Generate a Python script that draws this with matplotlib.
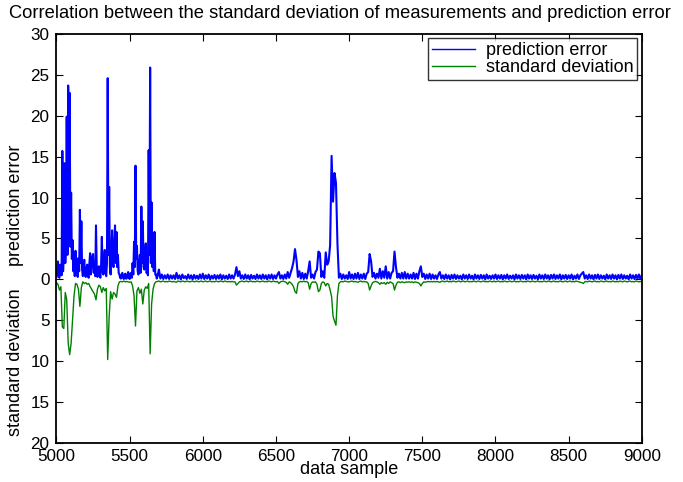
import numpy as np
import matplotlib.pyplot as plt

plt.rcParams['font.family'] = ['Liberation Sans', 'DejaVu Sans']

# prediction error is read every 5 samples in the busy part (5000-5695),
# then every 10 samples up to 9000
err_samples = np.concatenate([np.arange(5000, 5700, 5), np.arange(5700, 9001, 10)])

pred_error = [
    # 5000 - 5695, step 5
    0.3, 1.2, 2.2, 0.4, 0.2, 1.8, 1.6, 0.5, 15.7, 1.0, 3.0, 14.2, 2.0, 4.5, 19.9, 3.0, 23.7, 5.0, 22.8, 4.0,
    10.6, 2.5, 4.8, 1.0, 2.2, 0.4, 3.5, 0.6, 1.5, 0.3, 2.6, 1.0, 8.5, 2.0, 7.1, 1.2, 0.4, 1.5, 2.4, 0.5,
    0.3, 1.4, 1.8, 0.4, 0.2, 2.0, 3.2, 0.6, 1.5, 2.8, 3.1, 0.8, 2.0, 0.4, 6.6, 1.5, 0.3, 1.2, 1.6, 0.5,
    0.2, 1.8, 5.2, 1.0, 0.6, 2.5, 3.6, 0.8, 0.4, 2.0, 24.6, 3.0, 11.3, 1.5, 0.6, 3.0, 6.0, 2.0, 1.5, 4.5,
    6.6, 2.0, 5.8, 1.5, 3.0, 0.8, 0.6, 0.2, 0.1, 0.6, 0.8, 0.2, 0.05, 0.5, 0.7, 0.1, 0.1, 0.6, 0.9, 0.2,
    0.05, 0.7, 0.8, 0.2, 2.0, 0.6, 4.6, 1.5, 13.9, 2.5, 4.1, 1.0, 0.6, 2.0, 3.0, 0.8, 8.9, 2.0, 7.1, 1.5,
    1.2, 3.0, 4.4, 0.8, 1.0, 0.5, 15.8, 3.0, 25.9, 2.0, 9.4, 1.5, 5.6, 1.0, 5.8, 0.6, 0.6, 0.1, 0.3, 0.8,
    # 5700 - 9000, step 10
    1.2, 0.1, 0.6, 0.05, 0.5, 0.1, 0.6, 0.05, 0.5, 0.1,
    0.5, 0.05, 0.8, 0.1, 0.5, 0.0, 0.6, 0.15, 0.4, 0.05, 0.6, 0.1, 0.5, 0.0, 0.55, 0.1, 0.45, 0.05, 0.6, 0.1,
    0.7, 0.05, 0.5, 0.1, 0.6, 0.0, 0.45, 0.1, 0.55, 0.05, 0.5, 0.1, 0.6, 0.0, 0.5, 0.1, 0.45, 0.05, 0.6, 0.1,
    0.5, 0.1, 0.6, 1.5, 0.4, 1.0, 0.1, 0.5, 0.05, 0.6, 0.1, 0.5, 0.0, 0.55, 0.1, 0.45, 0.05, 0.6, 0.1, 0.5,
    0.05, 0.6, 0.1, 0.5, 0.0, 0.55, 0.1, 0.6, 0.05, 0.5, 0.1, 0.6, 0.9, 0.1, 0.5, 0.05, 0.6, 0.1, 0.9, 0.2,
    0.8, 1.4, 2.2, 3.7, 2.4, 0.3, 1.0, 0.1, 0.8, 0.05, 0.7, 0.1, 1.0, 2.2, 0.2, 0.6, 0.1, 0.9, 1.2, 3.4,
    3.2, 0.3, 1.0, 0.2, 3.3, 1.8, 2.2, 4.2, 15.1, 9.5, 13.0, 11.8, 4.4, 0.2, 0.7, 0.05, 0.6, 0.1, 0.5, 0.05,
    0.9, 0.1, 0.6, 0.05, 0.7, 0.1, 0.8, 0.05, 0.6, 0.1, 0.7, 0.05, 0.7, 0.9, 3.1, 2.2, 0.3, 0.8, 0.1, 0.7,
    0.2, 1.3, 0.1, 1.0, 0.2, 1.6, 0.1, 0.9, 0.1, 0.8, 1.0, 3.4, 1.5, 0.2, 0.7, 0.1, 0.8, 0.1, 0.9, 0.1,
    0.7, 0.1, 0.6, 0.1, 0.8, 0.05, 0.7, 0.1, 1.0, 1.6, 0.3, 0.7, 0.05, 0.6, 0.1, 0.7, 0.05, 0.6, 0.1, 0.5,
    0.05, 0.6, 0.9, 0.1, 0.5, 0.05, 0.6, 0.1, 0.5, 0.0, 0.55, 0.1, 0.6, 0.05, 0.5, 0.1, 0.45, 0.0, 0.6, 0.1,
    0.5, 0.05, 0.6, 0.1, 0.45, 0.0, 0.6, 0.1, 0.5, 0.05, 0.55, 0.1, 0.5, 0.0, 0.6, 0.1, 0.45, 0.05, 0.5, 0.1,
    0.6, 0.05, 0.5, 0.1, 0.55, 0.0, 0.5, 0.1, 0.6, 0.05, 0.45, 0.1, 0.5, 0.0, 0.6, 0.1, 0.5, 0.05, 0.55, 0.1,
    0.5, 0.0, 0.6, 0.1, 0.5, 0.05, 0.55, 0.1, 0.45, 0.0, 0.6, 0.1, 0.5, 0.05, 0.6, 0.1, 0.5, 0.0, 0.55, 0.1,
    0.6, 0.05, 0.5, 0.1, 0.6, 0.0, 0.5, 0.1, 0.55, 0.05, 0.5, 0.1, 0.6, 0.0, 0.45, 0.1, 0.6, 0.05, 0.5, 0.7,
    0.9, 0.1, 0.5, 0.05, 0.6, 0.1, 0.5, 0.0, 0.55, 0.1, 0.6, 0.05, 0.5, 0.1, 0.45, 0.0, 0.6, 0.1, 0.5, 0.05,
    0.6, 0.1, 0.5, 0.0, 0.55, 0.1, 0.6, 0.05, 0.5, 0.1, 0.45, 0.0, 0.6, 0.1, 0.5, 0.05, 0.55, 0.1, 0.6, 0.05,
    0.5,
]

# standard deviation every 10 samples, drawn downwards (negative)
std_samples = np.arange(5000, 9001, 10)

std_dev = [
    -0.4, -0.6, -1.3, -0.9, -5.8, -6.0, -1.6, -2.5, -7.8, -9.2, -7.8, -5.0, -2.0, -0.5, -0.6, -1.2, -3.3, -1.0, -0.3, -0.5,
    -0.4, -0.6, -0.5, -0.9, -1.2, -1.5, -1.8, -2.5, -1.2, -0.7, -0.9, -1.6, -1.0, -1.4, -1.1, -9.8, -4.5, -1.5, -2.4, -1.6,
    -1.8, -2.2, -0.8, -0.3, -0.25, -0.3, -0.2, -0.3, -0.25, -0.3, -0.35, -0.3, -0.8, -2.0, -5.7, -1.4, -1.0, -1.7, -1.2, -3.0,
    -1.3, -0.9, -1.1, -0.5, -9.1, -3.0, -1.2, -0.5, -0.3, -0.25, -0.2, -0.3, -0.25, -0.2, -0.3, -0.25, -0.3, -0.2, -0.25, -0.3,
    -0.25, -0.3, -0.35, -0.2, -0.25, -0.3, -0.2, -0.25, -0.3, -0.2, -0.25, -0.3, -0.25, -0.2, -0.3, -0.25, -0.2, -0.3, -0.25, -0.2,
    -0.3, -0.25, -0.2, -0.3, -0.25, -0.2, -0.3, -0.25, -0.3, -0.2, -0.25, -0.3, -0.2, -0.25, -0.3, -0.2, -0.25, -0.3, -0.25, -0.3,
    -0.25, -0.3, -0.3, -0.7, -0.5, -0.3, -0.25, -0.2, -0.3, -0.25, -0.2, -0.3, -0.25, -0.2, -0.3, -0.25, -0.3, -0.2, -0.25, -0.3,
    -0.25, -0.2, -0.3, -0.25, -0.3, -0.2, -0.25, -0.3, -0.2, -0.25, -0.3, -0.25, -0.5, -0.3, -0.25, -0.2, -0.3, -0.35, -0.6, -0.3,
    -0.4, -0.6, -0.9, -1.5, -1.7, -0.5, -0.3, -0.25, -0.3, -0.2, -0.3, -0.25, -0.4, -1.2, -0.5, -0.3, -0.35, -0.3, -0.6, -1.5,
    -1.3, -0.5, -0.3, -0.4, -0.8, -0.5, -0.6, -1.3, -2.1, -4.5, -5.1, -5.6, -2.0, -0.5, -0.3, -0.25, -0.3, -0.2, -0.25, -0.3,
    -0.3, -0.25, -0.2, -0.3, -0.25, -0.3, -0.35, -0.25, -0.2, -0.3, -0.25, -0.3, -0.3, -0.5, -1.3, -0.8, -0.4, -0.3, -0.25, -0.3,
    -0.4, -0.6, -0.4, -0.5, -0.4, -0.6, -0.35, -0.5, -0.3, -0.4, -0.5, -1.3, -0.7, -0.35, -0.3, -0.4, -0.3, -0.35, -0.4, -0.3,
    -0.35, -0.3, -0.35, -0.3, -0.4, -0.3, -0.35, -0.4, -0.5, -0.8, -0.5, -0.3, -0.35, -0.3, -0.25, -0.3, -0.25, -0.3, -0.25, -0.3,
    -0.25, -0.3, -0.35, -0.25, -0.2, -0.3, -0.25, -0.2, -0.3, -0.25, -0.3, -0.2, -0.25, -0.3, -0.25, -0.2, -0.3, -0.25, -0.2, -0.3,
    -0.25, -0.2, -0.3, -0.25, -0.3, -0.2, -0.25, -0.3, -0.2, -0.25, -0.3, -0.25, -0.2, -0.3, -0.25, -0.3, -0.2, -0.25, -0.3, -0.2,
    -0.3, -0.25, -0.2, -0.3, -0.25, -0.3, -0.2, -0.25, -0.3, -0.25, -0.2, -0.3, -0.25, -0.2, -0.3, -0.25, -0.3, -0.2, -0.25, -0.3,
    -0.25, -0.3, -0.2, -0.25, -0.3, -0.2, -0.25, -0.3, -0.25, -0.2, -0.3, -0.25, -0.3, -0.2, -0.25, -0.3, -0.2, -0.25, -0.3, -0.25,
    -0.2, -0.3, -0.25, -0.3, -0.2, -0.25, -0.3, -0.25, -0.2, -0.3, -0.25, -0.2, -0.3, -0.25, -0.3, -0.2, -0.25, -0.3, -0.35, -0.4,
    -0.5, -0.3, -0.25, -0.3, -0.2, -0.25, -0.3, -0.25, -0.2, -0.3, -0.25, -0.3, -0.2, -0.25, -0.3, -0.25, -0.2, -0.3, -0.25, -0.3,
    -0.2, -0.25, -0.3, -0.25, -0.3, -0.2, -0.25, -0.3, -0.2, -0.25, -0.3, -0.25, -0.2, -0.3, -0.25, -0.3, -0.2, -0.25, -0.3, -0.25,
    -0.3,
]

xticks = [5000, 5500, 6000, 6500, 7000, 7500, 8000, 8500, 9000]
yticks = [-20, -15, -10, -5, 0, 5, 10, 15, 20, 25, 30]
ytick_labels = ['20', '15', '10', '5', '0', '5', '10', '15', '20', '25', '30']

fig = plt.figure(figsize=(6.83, 4.82), dpi=100)
ax = fig.add_axes([0.0827, 0.0809, 0.857, 0.8486])

ax.plot(err_samples, pred_error, color='#0000ff', lw=1.5, label='prediction error')
ax.plot(std_samples, std_dev, color='#008000', lw=1.0, label='standard deviation')

ax.set_xlim(5000, 9000)
ax.set_ylim(-20, 30)
ax.set_xticks(xticks)
ax.set_yticks(yticks)
ax.set_yticklabels(ytick_labels)
ax.tick_params(direction='in', top=True, right=True, length=5, labelsize=12.3)
ax.tick_params(axis='x', pad=4)
ax.tick_params(axis='y', pad=5)
for sp in ax.spines.values():
    sp.set_linewidth(1.3)

leg = ax.legend(loc='upper right', fontsize=13, frameon=True, fancybox=False,
                edgecolor='black', handlelength=2.4, handletextpad=0.6, borderpad=0.2,
                labelspacing=0.0, borderaxespad=0.25)
leg.get_frame().set_linewidth(1.0)
for line in leg.get_lines():
    line.set_linewidth(1.0)

fig.text(340 / 683, 1 - 13 / 482,
         'Correlation between the standard deviation of measurements and prediction error',
         ha='center', va='center', fontsize=13.2)
fig.text(349 / 683, 1 - 461 / 482, 'data sample', ha='center', va='top', fontsize=13)
fig.text(16 / 683, 1 - 205 / 482, 'prediction error', rotation=90, ha='center', va='center', fontsize=13)
fig.text(16 / 683, 1 - 362 / 482, 'standard deviation', rotation=90, ha='center', va='center', fontsize=13)

plt.savefig('out.png', dpi=100)
